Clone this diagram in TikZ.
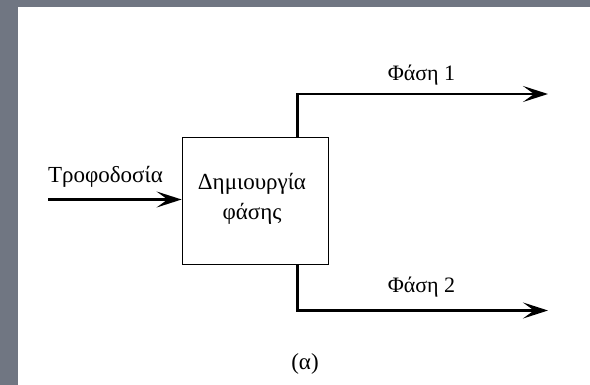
\documentclass[tikz,border=0pt]{standalone}
\usepackage{fontspec}
\setmainfont{Liberation Serif}
\usetikzlibrary{arrows.meta}
\definecolor{frame}{RGB}{112,118,130}
\begin{document}
\begin{tikzpicture}[x=1pt,y=-1pt,
  flow/.style={line width=2.6pt,line join=miter,
    -{Stealth[length=25pt,width=16pt,inset=11pt]}},
  unit/.style={draw,line width=1.8pt,minimum width=146pt,minimum height=127pt,
    inner sep=0pt},
  lbl/.style={font=\fontsize{23}{30}\selectfont,inner sep=0pt,anchor=base,
    align=center}]
  % page with grey frame on the left and top
  \fill[frame] (0,0) rectangle (590,385);
  \fill[white] (18,7) rectangle (590,385);
  \useasboundingbox (0,0) rectangle (590,385);
  % process block
  \node[unit] (gen) at (255.5,201) {};
  \node[lbl] (tgen) at (252,220) {Δημιουργία\\φάσης};
  \coordinate (feed) at (48,199.5);
  \coordinate (c1) at (297.5,94);
  \coordinate (c2) at (297.5,310.5);
  \coordinate (o1) at (548,94);
  \coordinate (o2) at (548,310.5);
  % streams
  \draw[flow] (feed) -- (feed -| gen.west);
  \draw[flow] (gen.north -| c1) -- (c1) -- (o1);
  \draw[flow] (gen.south -| c2) -- (c2) -- (o2);
  % labels
  \node[lbl] (tfeed) at (105.5,183) {Τροφοδοσία};
  \node[lbl,font=\fontsize{22}{26}\selectfont] (tp1) at (421.5,81) {Φάση 1};
  \node[lbl,font=\fontsize{22}{26}\selectfont] (tp2) at (421.5,293) {Φάση 2};
  \node[lbl] (cap) at (305,370) {(α)};
\end{tikzpicture}
\end{document}
